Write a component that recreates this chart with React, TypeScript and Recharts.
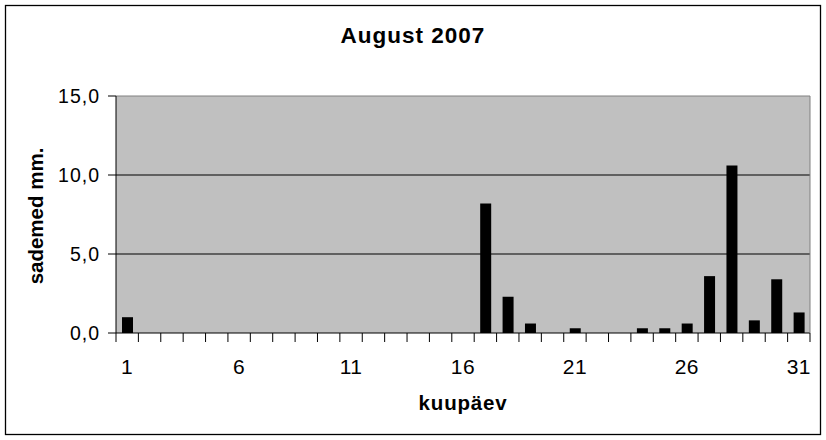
import React from 'react';
import { BarChart, Bar, XAxis, YAxis, CartesianGrid } from 'recharts';

const days = [1, 2, 3, 4, 5, 6, 7, 8, 9, 10, 11, 12, 13, 14, 15, 16, 17, 18, 19, 20, 21, 22, 23, 24, 25, 26, 27, 28, 29, 30, 31];
const rainfall = [1.0, 0, 0, 0, 0, 0, 0, 0, 0, 0, 0, 0, 0, 0, 0, 0, 8.2, 2.3, 0.6, 0, 0.3, 0, 0, 0.3, 0.3, 0.6, 3.6, 10.6, 0.8, 3.4, 1.3];
const labelDays = [1, 6, 11, 16, 21, 26, 31];
const yTicks = [0, 5, 10, 15];
const gridValues = [5, 10];

const title = 'August 2007';
const yTitle = 'sademed mm.';
const xTitle = 'kuupäev';

const data = days.map((d, i) => ({ day: d, value: rainfall[i] }));

const W = 826;
const H = 440;
const FONT = '"Liberation Sans", Arial, sans-serif';
const margin = { top: 95, right: 15, bottom: 0, left: 0 };
const yAxisWidth = 116;
const xAxisHeight = 107;
const plotWidth = W - margin.left - margin.right - yAxisWidth - 1;
const band = plotWidth / days.length;

function DayTick(props: any) {
  const { x, y, payload, index } = props;
  const left = x - band / 2;
  const right = x + band / 2;
  return (
    <g>
      <line x1={left} x2={left} y1={y} y2={y + 9} stroke="#000" strokeWidth={1} />
      {index === days.length - 1 && (
        <line x1={right} x2={right} y1={y} y2={y + 9} stroke="#000" strokeWidth={1} />
      )}
      {labelDays.includes(payload.value) && (
        <text x={x} y={y + 41} textAnchor="middle" fontSize={21} fontFamily={FONT} fill="#000" letterSpacing={0.5}>
          {payload.value}
        </text>
      )}
    </g>
  );
}

const fmt = (v: number) => v.toFixed(1).replace('.', ',');

export default function App() {
  return (
    <div style={{ position: 'absolute', left: 0, top: 0, width: W, height: H, background: '#fff' }}>
      <BarChart width={W} height={H} data={data} margin={margin} barSize={11}>
        <CartesianGrid
          vertical={false}
          horizontalValues={gridValues}
          stroke="#000"
          fill="#C0C0C0"
          fillOpacity={1}
        />
        <XAxis
          dataKey="day"
          type="category"
          height={xAxisHeight}
          interval={0}
          tickLine={false}
          tickSize={0}
          tickMargin={0}
          axisLine={{ stroke: '#000' }}
          tick={<DayTick />}
        />
        <XAxis
          xAxisId="top"
          dataKey="day"
          orientation="top"
          height={1}
          tick={false}
          tickLine={false}
          axisLine={{ stroke: '#808080' }}
        />
        <YAxis
          domain={[0, 15]}
          ticks={yTicks}
          width={yAxisWidth}
          tickFormatter={fmt}
          tickSize={8}
          tickMargin={8}
          tickLine={{ stroke: '#000' }}
          axisLine={{ stroke: '#000' }}
          tick={{ fill: '#000', fontSize: 19.5, fontFamily: FONT, letterSpacing: 1 }}
          interval={0}
        />
        <YAxis
          yAxisId="right"
          orientation="right"
          domain={[0, 15]}
          width={1}
          tick={false}
          tickLine={false}
          axisLine={{ stroke: '#808080' }}
        />
        <Bar dataKey="value" fill="#000" isAnimationActive={false} />
      </BarChart>
      <svg
        width={W}
        height={H}
        style={{ position: 'absolute', left: 0, top: 0, pointerEvents: 'none' }}
      >
        <rect x={5.5} y={5.5} width={815} height={429} fill="none" stroke="#000" strokeWidth={1.3} />
        <text x={413} y={43} textAnchor="middle" fontSize={22.5} fontWeight="bold" fontFamily={FONT} letterSpacing={1} fill="#000">
          {title}
        </text>
        <text
          x={43}
          y={216}
          transform="rotate(-90 43 216)"
          textAnchor="middle"
          fontSize={20.5}
          fontWeight="bold"
          fontFamily={FONT}
          fill="#000"
        >
          {yTitle}
        </text>
        <text x={463} y={410} textAnchor="middle" fontSize={20.5} fontWeight="bold" fontFamily={FONT} letterSpacing={0.8} fill="#000">
          {xTitle}
        </text>
      </svg>
    </div>
  );
}
